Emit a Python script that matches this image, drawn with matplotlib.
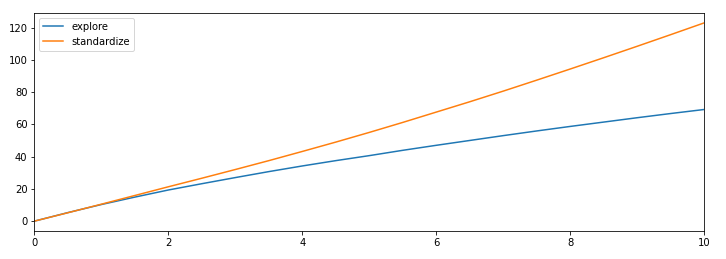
import matplotlib
matplotlib.use("Agg")
import matplotlib.pyplot as plt

x = [0, 0.5, 1, 1.5, 2, 2.5, 3, 3.5, 4, 4.5, 5, 5.5, 6, 6.5, 7, 7.5, 8, 8.5, 9, 9.5, 10]
explore = [0, 5.3, 10.3, 14.9, 19.3, 23.2, 27.0, 30.7, 34.2, 37.5, 40.6, 43.9, 47.0,
           50.0, 53.0, 55.9, 58.7, 61.4, 64.1, 66.7, 69.2]
standardize = [0, 5.2, 10.5, 15.9, 21.3, 26.6, 32.0, 37.5, 43.2, 49.0, 55.0, 61.2, 67.6,
               74.0, 80.6, 87.4, 94.3, 101.3, 108.4, 115.6, 122.9]

fig = plt.figure(figsize=(726 / 72, 259 / 72), dpi=72)
ax = fig.add_axes([0.0475, 0.108, 0.9225, 0.842])
ax.plot(x, explore, color='#1f77b4', lw=1.5, label='explore')
ax.plot(x, standardize, color='#ff7f0e', lw=1.5, label='standardize')
ax.set_xlim(0, 10)
ax.tick_params(labelsize=10)
ax.legend(loc='upper left', fontsize=10)

fig.savefig('out.png', dpi=72)
